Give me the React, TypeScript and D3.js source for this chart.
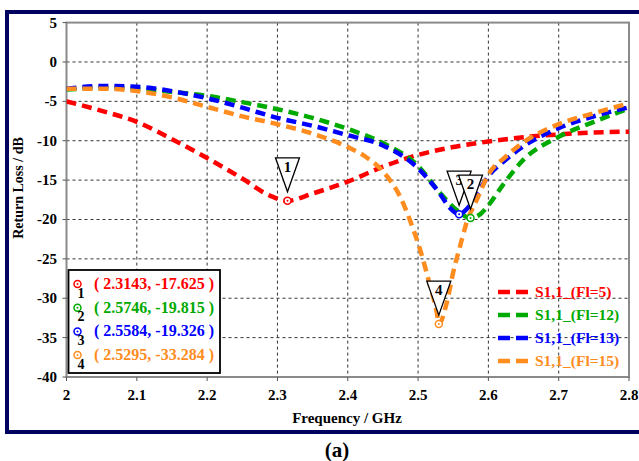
import React from "react";
import * as d3 from "d3";

// Return loss (S1,1) sweeps for four Fl values
const freqRed = [2.0, 2.05, 2.1, 2.15, 2.2, 2.25, 2.29, 2.3143, 2.35, 2.4, 2.45, 2.5, 2.55, 2.6, 2.65, 2.7, 2.75, 2.8];
const s11Fl5 = [-5.0, -6.2, -7.6, -9.8, -12.2, -14.8, -17.0, -17.625, -16.7, -15.2, -13.3, -11.8, -10.8, -10.1, -9.55, -9.2, -8.95, -8.85];

const freqGreen = [2.0, 2.05, 2.1, 2.15, 2.2, 2.25, 2.3, 2.35, 2.4, 2.45, 2.5, 2.53, 2.555, 2.5746, 2.59, 2.6, 2.62, 2.65, 2.7, 2.75, 2.8];
const s11Fl12 = [-3.5, -3.3, -3.4, -3.8, -4.3, -5.1, -6.0, -7.1, -8.5, -10.3, -13.2, -16.5, -18.8, -19.815, -19.2, -18.2, -15.7, -12.4, -9.5, -7.6, -5.9];

const freqBlue = [2.0, 2.05, 2.1, 2.15, 2.2, 2.25, 2.3, 2.35, 2.4, 2.45, 2.5, 2.53, 2.545, 2.5584, 2.57, 2.585, 2.6, 2.625, 2.65, 2.7, 2.75, 2.8];
const s11Fl13 = [-3.4, -3.05, -3.15, -3.7, -4.6, -5.8, -7.1, -8.1, -9.3, -10.6, -13.5, -16.6, -18.5, -19.326, -18.6, -16.6, -14.5, -12.4, -10.7, -8.4, -6.9, -5.75];

const freqOrange = [2.0, 2.05, 2.1, 2.15, 2.2, 2.25, 2.3, 2.35, 2.4, 2.425, 2.45, 2.475, 2.493, 2.5055, 2.517, 2.5266, 2.5295, 2.541, 2.55, 2.56, 2.569, 2.5835, 2.6, 2.625, 2.65, 2.7, 2.75, 2.8];
const s11Fl15 = [-3.4, -3.4, -3.7, -4.5, -5.7, -6.9, -7.9, -9.1, -10.8, -12.0, -13.9, -17.2, -21.2, -24.6, -28.4, -31.8, -33.284, -30.5, -26.7, -23.3, -20.4, -17.5, -14.3, -12.0, -10.2, -7.9, -6.5, -5.25];

const seriesNames = ["S1,1_(Fl=5)", "S1,1_(Fl=12)", "S1,1_(Fl=13)", "S1,1_(Fl=15)"];
const seriesColors = ["#ff0000", "#00aa00", "#0000ff", "#ff8c1e"];

// Marker readouts
const markerIds = ["1", "2", "3", "4"];
const markerFreq = [2.3143, 2.5746, 2.5584, 2.5295];
const markerVal = [-17.625, -19.815, -19.326, -33.284];
const markerColors = ["#ff0000", "#00aa00", "#0000ff", "#ff8c1e"];

const xTicks = [2, 2.1, 2.2, 2.3, 2.4, 2.5, 2.6, 2.7, 2.8];
const yTicks = [5, 0, -5, -10, -15, -20, -25, -30, -35, -40];

const FONT = "'Liberation Serif', 'Times New Roman', serif";

export default function App() {
  const W = 639;
  const H = 461;
  const left = 66.5;
  const right = 629;
  const top = 22.6;
  const bottom = 377;

  const x = d3.scaleLinear().domain([2, 2.8]).range([left, right]);
  const y = d3.scaleLinear().domain([-40, 5]).range([bottom, top]);

  const series = [
    { f: freqRed, v: s11Fl5 },
    { f: freqGreen, v: s11Fl12 },
    { f: freqBlue, v: s11Fl13 },
    { f: freqOrange, v: s11Fl15 },
  ];

  const line = d3
    .line<[number, number]>()
    .x((d) => x(d[0]))
    .y((d) => y(d[1]))
    .curve(d3.curveMonotoneX);

  const triW = 24;
  const triH = 34;
  const triGap = 9;
  // draw order for marker flags: 1, 4, 3, 2 (2 sits over 3)
  const flagOrder = [0, 3, 2, 1];

  return (
    <svg
      width={W}
      height={H}
      style={{ position: "absolute", left: 0, top: 0, background: "#fff" }}
      fontFamily={FONT}
      fontWeight="bold"
    >
      <rect x={0} y={0} width={W} height={H} fill="#fff" />
      {/* outer frame */}
      <rect x={7} y={12} width={700} height={420} fill="none" stroke="#00005e" strokeWidth={4} />

      <defs>
        <clipPath id="plotClip">
          <rect x={left} y={top} width={right - left} height={bottom - top} />
        </clipPath>
      </defs>

      {/* grid */}
      {xTicks.slice(1, -1).map((t) => (
        <line key={"gx" + t} x1={x(t)} x2={x(t)} y1={top} y2={bottom} stroke="#333" strokeWidth={1} strokeDasharray="3,3" />
      ))}
      {yTicks.slice(1, -1).map((t) => (
        <line key={"gy" + t} x1={left} x2={right} y1={y(t)} y2={y(t)} stroke="#333" strokeWidth={1} strokeDasharray="3,3" />
      ))}

      {/* plot border */}
      <rect x={left} y={top} width={right - left} height={bottom - top} fill="none" stroke="#8a8a8a" strokeWidth={2} />

      {/* ticks */}
      {xTicks.map((t) => (
        <line key={"tx" + t} x1={x(t)} x2={x(t)} y1={bottom} y2={bottom + 4} stroke="#555" strokeWidth={1} />
      ))}
      {yTicks.map((t) => (
        <line key={"ty" + t} x1={left - 4} x2={left} y1={y(t)} y2={y(t)} stroke="#555" strokeWidth={1} />
      ))}

      {/* tick labels */}
      {xTicks.map((t) => (
        <text key={"lx" + t} x={x(t)} y={400} textAnchor="middle" fontSize={15} fill="#000">
          {d3.format("~g")(t)}
        </text>
      ))}
      {yTicks.map((t) => (
        <text key={"ly" + t} x={57} y={y(t) + 5} textAnchor="end" fontSize={15} fill="#000">
          {t}
        </text>
      ))}

      {/* axis titles */}
      <text x={347} y={423} textAnchor="middle" fontSize={15} fill="#000">
        Frequency / GHz
      </text>
      <text transform="translate(23,188) rotate(-90)" textAnchor="middle" fontSize={14} fill="#000">
        Return Loss / dB
      </text>
      <text x={337} y={457} textAnchor="middle" fontSize={21} fill="#000">
        (a)
      </text>

      {/* curves */}
      <g clipPath="url(#plotClip)">
        {series.map((s, i) => (
          <path
            key={"s" + i}
            d={line(s.f.map((f, k) => [f, s.v[k]] as [number, number])) || ""}
            fill="none"
            stroke={seriesColors[i]}
            strokeWidth={4.5}
            strokeDasharray="10,6"
          />
        ))}
      </g>

      {/* markers on curves */}
      {markerIds.map((id, i) => (
        <g key={"m" + id}>
          <circle cx={x(markerFreq[i])} cy={y(markerVal[i])} r={3.5} fill="#fff" stroke={markerColors[i]} strokeWidth={1.5} />
          <circle cx={x(markerFreq[i])} cy={y(markerVal[i])} r={1} fill={markerColors[i]} />
        </g>
      ))}

      {/* marker flags */}
      {flagOrder.map((i) => {
        const cx = x(markerFreq[i]);
        const tipY = y(markerVal[i]) - triGap;
        const topY = tipY - triH;
        const pts = `${cx - triW / 2},${topY} ${cx + triW / 2},${topY} ${cx},${tipY}`;
        return (
          <g key={"flag" + i}>
            <polygon points={pts} fill="#fff" stroke="#000" strokeWidth={1.3} />
            <text x={cx} y={topY + 14} textAnchor="middle" fontSize={15} fill="#000">
              {markerIds[i]}
            </text>
          </g>
        );
      })}

      {/* marker readout box */}
      <rect x={68.5} y={270} width={151.5} height={103} fill="#fff" stroke="#000" strokeWidth={1.8} />
      {markerIds.map((id, i) => {
        const cy = 284 + i * 23.7;
        return (
          <g key={"mr" + id}>
            <circle cx={77.5} cy={cy} r={3.5} fill="#fff" stroke={markerColors[i]} strokeWidth={1.5} />
            <circle cx={77.5} cy={cy} r={1} fill={markerColors[i]} />
            <text x={81} y={cy + 13.5} textAnchor="middle" fontSize={14} fill="#000">
              {id}
            </text>
            <text x={94} y={cy + 5} fontSize={16} fill={markerColors[i]}>
              {`( ${markerFreq[i].toFixed(4)}, ${markerVal[i].toFixed(3)} )`}
            </text>
          </g>
        );
      })}

      {/* series legend */}
      {seriesNames.map((name, i) => {
        const ly = 292 + i * 23;
        return (
          <g key={"lg" + i}>
            <line x1={498} x2={528} y1={ly} y2={ly} stroke={seriesColors[i]} strokeWidth={4.5} strokeDasharray="12,6" />
            <text x={535} y={ly + 5} fontSize={15.5} fill={seriesColors[i]}>
              {name}
            </text>
          </g>
        );
      })}
    </svg>
  );
}
